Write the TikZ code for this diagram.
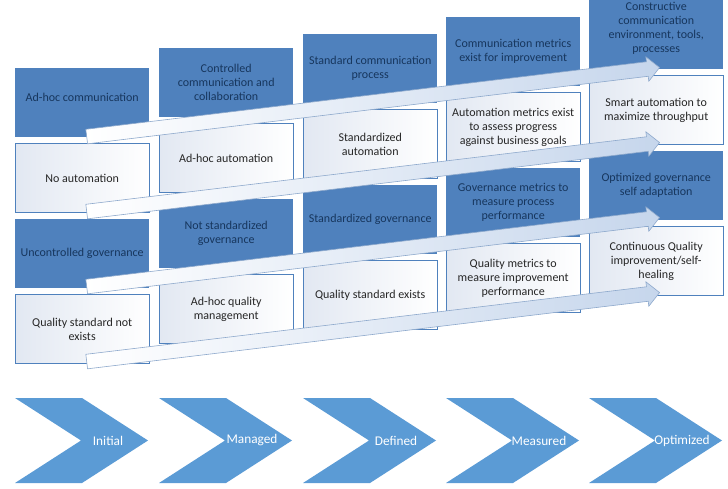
\documentclass[tikz,border=0pt]{standalone}
\usepackage{fontspec}
\setmainfont{Carlito}
\usetikzlibrary{positioning,calc,shapes.arrows}
\definecolor{boxblue}{HTML}{4F81BD}
\definecolor{boxink}{HTML}{17365D}
\definecolor{paleshade}{HTML}{E2E8F2}
\definecolor{arrowline}{HTML}{8EA9CC}
\definecolor{arrowtint}{HTML}{C6D6EC}
\definecolor{stageblue}{HTML}{5B9BD5}
\tikzset{
  cell/.style={rectangle, minimum width=134pt, minimum height=69pt, inner sep=2pt, align=center, font=\fontsize{12}{14}\selectfont},
  dark/.style={cell, fill=boxblue, text=boxink},
  light/.style={cell, draw=boxblue, line width=0.6pt, left color=paleshade, right color=white, text=black!85},
  darkink/.style={text=boxink, align=center, font=\fontsize{12}{14}\selectfont},
  flow/.style={single arrow, draw=arrowline, line width=0.6pt, left color=white, right color=arrowtint,
               minimum height=577pt, inner sep=7pt, single arrow head extend=5pt},
  stage/.style={fill=stageblue},
  stagetext/.style={text=white, inner sep=0pt, font=\fontsize{13.3}{16}\selectfont},
}
\begin{document}
\begin{tikzpicture}[x=1pt, y=-1pt, node distance=6pt]
\useasboundingbox (0,0) rectangle (728,489);
%Nodes
\node[dark, anchor=north west, label={[darkink, yshift=5pt]center:Ad-hoc communication}] (comm1) at (15,68) {};
\node[light, below=of comm1] (auto1) {No automation};
\node[dark, below=of auto1] (gov1) {Uncontrolled governance};
\node[light, below=of gov1] (qual1) {Quality standard not\\exists};

\node[dark, anchor=north west] (comm2) at (159,48) {Controlled\\communication and\\collaboration};
\node[light, below=of comm2] (auto2) {Ad-hoc automation};
\node[dark, below=of auto2] (gov2) {Not standardized\\governance};
\node[light, below=of gov2] (qual2) {Ad-hoc quality\\management};

\node[dark, anchor=north west] (comm3) at (303,34) {Standard communication\\process};
\node[light, below=of comm3] (auto3) {Standardized\\automation};
\node[dark, below=of auto3] (gov3) {Standardized governance};
\node[light, below=of gov3] (qual3) {Quality standard exists};

\node[dark, anchor=north west] (comm4) at (446,17) {Communication metrics\\exist for improvement};
\node[light, below=of comm4] (auto4) {Automation metrics exist\\to assess progress\\against business goals};
\node[dark, below=of auto4] (gov4) {Governance metrics to\\measure process\\performance};
\node[light, below=of gov4] (qual4) {Quality metrics to\\measure improvement\\performance};

\node[dark, anchor=north west, label={[darkink, yshift=6pt]center:{Constructive\\communication\\environment, tools,\\processes}}] (comm5) at (589,0) {};
\node[light, below=of comm5] (auto5) {Smart automation to\\maximize throughput};
\node[dark, below=of auto5] (gov5) {Optimized governance\\self adaptation};
\node[light, below=of gov5] (qual5) {Continuous Quality\\improvement/self-\\healing};

%Arrows
\foreach \i/\y in {1/137, 2/212, 3/287, 4/362} {
  \coordinate (from\i) at (83,\y);
  \coordinate (to\i) at (656,\y-69);
  \node[flow, rotate=6.87] (flow\i) at ($(from\i)!0.5!(to\i)$) {};
}

%Stages
\foreach \x/\name/\txt in {15/initial/Initial, 159/managed/Managed, 303/defined/Defined, 446/measured/Measured, 589/optimized/Optimized} {
  \fill[stage] (\x,398) -- ++(67,0) -- ++(66,42.5) -- ++(-66,42.5) -- ++(-67,0) -- ++(66,-42.5) -- cycle;
  \node[stagetext] (\name) at (\x+93,440.5) {\txt};
}
\end{tikzpicture}
\end{document}
